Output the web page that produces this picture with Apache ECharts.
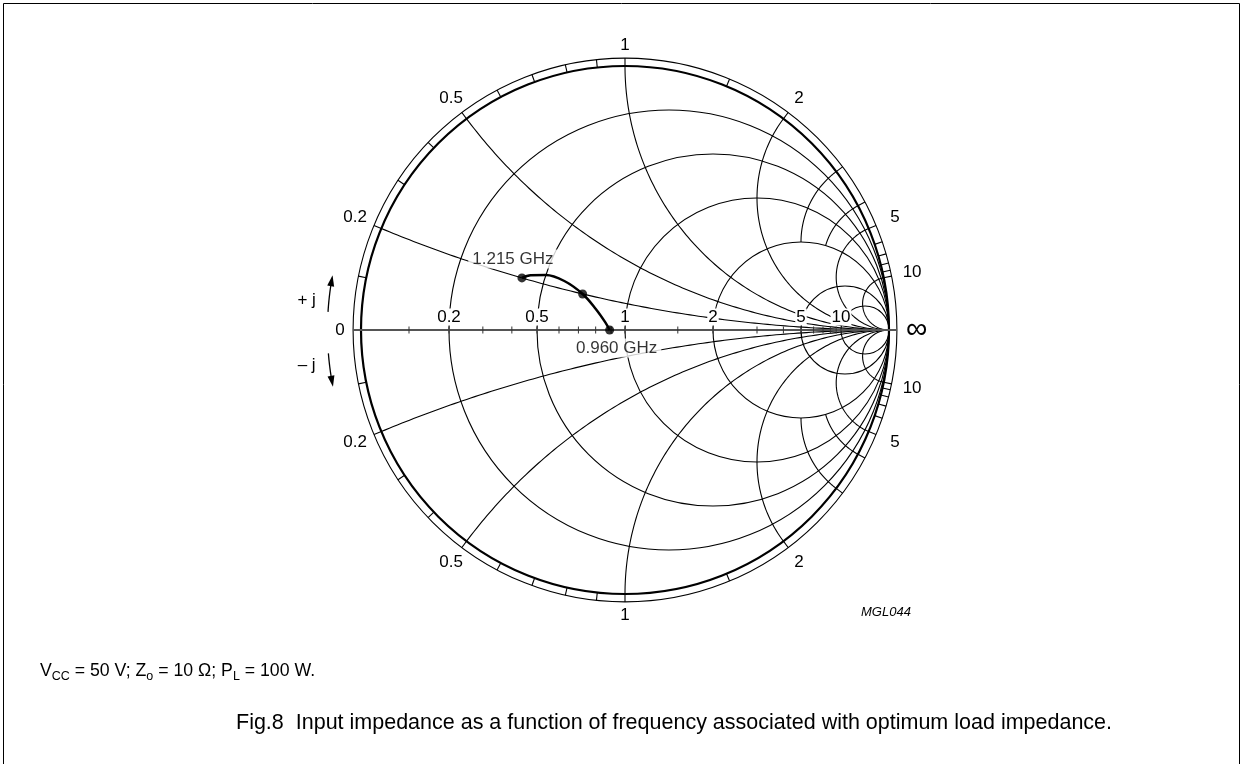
<!DOCTYPE html>
<html>
<head>
<meta charset="utf-8">
<script src="https://cdn.jsdelivr.net/npm/echarts@6/dist/echarts.min.js"></script>
<style>
html, body { margin: 0; padding: 0; background: #fff; }
#chart { width: 1247px; height: 764px; }
</style>
</head>
<body>
<div id="chart"></div>
<script>
// Smith chart grid (normalised impedance)
const resistanceCircles = [0.2, 0.5, 1, 2, 5, 10]
const reactanceArcs = [0.2, 0.5, 1, 2, 5, 10]
const shortArcs = [3, 4]          // drawn from the rim in to the r = 2 circle
const shortArcStop = 2
const scaleTicks = [0.1, 0.2, 0.3, 0.4, 0.5, 0.6, 0.7, 0.8, 0.9, 1, 1.5, 2, 3, 4, 5, 6, 7, 8, 9, 10]
const axisLabels = ['0.2', '0.5', '1', '2', '5', '10']
const rimLabels = ['0.2', '0.5', '1', '2', '5', '10']

const traceR = [0.89, 0.86, 0.79, 0.70, 0.59, 0.50, 0.44, 0.41]
const traceX = [0, 0.05, 0.13, 0.20, 0.24, 0.24, 0.22, 0.20]
const markedPoints = [0, 3, 7]
const freqLabels = ['0.960 GHz', '', '1.215 GHz']

const FONT = '"Liberation Sans", Arial, Helvetica, sans-serif'

function gamma(r, x) {
  const d = (r + 1) * (r + 1) + x * x
  return [(r * r - 1 + x * x) / d, (2 * x) / d]
}

function rimPoint(x, rad) {
  const t = Math.PI - 2 * Math.atan(x)
  return [rad * Math.cos(t), rad * Math.sin(t)]
}

// constant reactance arc, from the rim to resistance rStop (null = all the way to infinity)
function arcPoints(x, rStop) {
  const s = x < 0 ? -1 : 1
  const ax = Math.abs(x)
  const R = 1 / ax
  const t = Math.PI - 2 * Math.atan(ax)
  let a0 = Math.atan2(Math.sin(t) - R, Math.cos(t) - 1)
  if (a0 < Math.PI / 2) a0 += 2 * Math.PI
  let a1 = 1.5 * Math.PI
  if (rStop != null) {
    const e = gamma(rStop, ax)
    a1 = Math.atan2(e[1] - R, e[0] - 1)
    if (a1 < Math.PI / 2) a1 += 2 * Math.PI
  }
  const pts = []
  for (let i = 0; i <= 120; i++) {
    const a = a0 + (a1 - a0) * i / 120
    pts.push([1 + R * Math.cos(a), s * (R + R * Math.sin(a))])
  }
  return pts
}

const line = { stroke: '#000', lineWidth: 1.1, fill: 'none' }
const traceData = traceR.map((r, i) => gamma(r, traceX[i]))
const signed = (arr) => arr.concat(arr.map(v => -v))

const chart = echarts.init(document.getElementById('chart'))

chart.setOption({
  animation: false,
  backgroundColor: '#fff',
  grid: { left: 361, top: 66, width: 528, height: 528 },
  xAxis: { type: 'value', min: -1, max: 1, show: false },
  yAxis: { type: 'value', min: -1, max: 1, show: false },
  graphic: [
    { type: 'rect', shape: { x: 3.5, y: 3.5, width: 1236, height: 800 }, style: { fill: 'none', stroke: '#000', lineWidth: 1 } },
    {
      type: 'text', x: 861, y: 612,
      style: { text: 'MGL044', font: 'italic 13px ' + FONT, fill: '#000', verticalAlign: 'middle' }
    },
    {
      type: 'text', x: 40, y: 671,
      style: {
        text: '{n|V}{s|CC}{n| = 50 V; Z}{s|o}{n| = 10 Ω; P}{s|L}{n| = 100 W.}',
        verticalAlign: 'middle',
        rich: {
          n: { font: '17.7px ' + FONT, fill: '#000' },
          s: { font: '12.5px ' + FONT, fill: '#000', padding: [12, 0, 0, 0] }
        }
      }
    },
    {
      type: 'text', x: 236, y: 723,
      style: {
        text: 'Fig.8  Input impedance as a function of frequency associated with optimum load impedance.',
        font: '21.5px ' + FONT, fill: '#000', verticalAlign: 'middle'
      }
    }
  ],
  series: [
    {
      // constant resistance circles
      type: 'custom',
      data: resistanceCircles.map(r => [r, 0]),
      z: 2,
      renderItem: (params, api) => {
        const r = api.value(0)
        const c = api.coord([r / (1 + r), 0])
        const rad = api.size([1 / (1 + r), 0])[0]
        return { type: 'circle', shape: { cx: c[0], cy: c[1], r: rad }, style: line }
      }
    },
    {
      // constant reactance arcs
      type: 'custom',
      data: signed(reactanceArcs).map(x => [x, 0]),
      z: 2,
      renderItem: (params, api) => ({
        type: 'polyline',
        shape: { points: arcPoints(api.value(0), null).map(p => api.coord(p)) },
        style: line
      })
    },
    {
      // short reactance arcs near the rim
      type: 'custom',
      data: signed(shortArcs).map(x => [x, 0]),
      z: 2,
      renderItem: (params, api) => ({
        type: 'polyline',
        shape: { points: arcPoints(api.value(0), shortArcStop).map(p => api.coord(p)) },
        style: line
      })
    },
    {
      // chart rim and scale ring
      type: 'custom',
      data: [[0, 0]],
      z: 3,
      renderItem: (params, api) => {
        const c = api.coord([0, 0])
        const unit = api.size([1, 0])[0]
        return {
          type: 'group',
          children: [
            { type: 'circle', shape: { cx: c[0], cy: c[1], r: unit }, style: { stroke: '#000', lineWidth: 2.2, fill: 'none' } },
            { type: 'circle', shape: { cx: c[0], cy: c[1], r: unit * 1.03 }, style: line }
          ]
        }
      }
    },
    {
      // ticks on the rim ring
      type: 'custom',
      data: [0].concat(signed(scaleTicks)).map(x => [x, 0]),
      z: 3,
      renderItem: (params, api) => {
        const x = api.value(0)
        const a = api.coord(rimPoint(x, 1))
        const b = api.coord(rimPoint(x, 1.03))
        return { type: 'line', shape: { x1: a[0], y1: a[1], x2: b[0], y2: b[1] }, style: line }
      }
    },
    {
      // real axis
      type: 'custom',
      data: [[0, 0]],
      z: 4,
      renderItem: (params, api) => {
        const a = api.coord([-1.03, 0])
        const b = api.coord([1.03, 0])
        return { type: 'line', shape: { x1: a[0], y1: a[1], x2: b[0], y2: b[1] }, style: { stroke: '#555', lineWidth: 2 } }
      }
    },
    {
      // ticks on the real axis
      type: 'custom',
      data: scaleTicks.map(r => [r, 0]),
      z: 4,
      renderItem: (params, api) => {
        const r = api.value(0)
        const p = api.coord(gamma(r, 0))
        return { type: 'line', shape: { x1: p[0], y1: p[1] - 3.5, x2: p[0], y2: p[1] + 3.5 }, style: { stroke: '#333', lineWidth: 1 } }
      }
    },
    {
      // real axis labels
      type: 'custom',
      data: axisLabels.map(s => [parseFloat(s), 0]),
      z: 5,
      renderItem: (params, api) => {
        const p = api.coord(gamma(api.value(0), 0))
        return {
          type: 'text', x: p[0], y: p[1] - 13,
          style: {
            text: axisLabels[params.dataIndex], font: '17px ' + FONT, fill: '#000',
            align: 'center', verticalAlign: 'middle', backgroundColor: '#fff', padding: [0, 1]
          }
        }
      }
    },
    {
      // rim labels
      type: 'custom',
      data: signed(rimLabels.map(parseFloat)).map(x => [x, 0]),
      z: 5,
      renderItem: (params, api) => {
        const x = api.value(0)
        const t = Math.PI - 2 * Math.atan(x)
        const p = api.coord(rimPoint(x, 1.08 + 0.03 * Math.abs(Math.cos(t))))
        return {
          type: 'text', x: p[0], y: p[1],
          style: { text: rimLabels[params.dataIndex % rimLabels.length], font: '17px ' + FONT, fill: '#000', align: 'center', verticalAlign: 'middle' }
        }
      }
    },
    {
      // 0, infinity and the +j / -j direction arrows
      type: 'custom',
      data: [[0, 0]],
      z: 5,
      renderItem: (params, api) => {
        const txt = (pt, s, size) => {
          const p = api.coord(pt)
          return { type: 'text', x: p[0], y: p[1], style: { text: s, font: size + 'px ' + FONT, fill: '#000', align: 'center', verticalAlign: 'middle' } }
        }
        const arrow = (from, to) => {
          const rad = 1.127
          const pts = []
          for (let i = 0; i <= 20; i++) {
            const a = (from + (to - from) * i / 20) * Math.PI / 180
            pts.push(api.coord([rad * Math.cos(a), rad * Math.sin(a)]))
          }
          const tip = pts[pts.length - 1]
          const prev = pts[pts.length - 6]
          const dx = tip[0] - prev[0], dy = tip[1] - prev[1]
          const len = Math.hypot(dx, dy)
          const ux = dx / len, uy = dy / len
          const hl = 11, hw = 3.5
          const base = [tip[0] - ux * hl, tip[1] - uy * hl]
          return [
            { type: 'polyline', shape: { points: pts.slice(0, -5) }, style: { stroke: '#000', lineWidth: 1.3, fill: 'none' } },
            { type: 'polygon', shape: { points: [tip, [base[0] - uy * hw, base[1] + ux * hw], [base[0] + uy * hw, base[1] - ux * hw]] }, style: { fill: '#000' } }
          ]
        }
        return {
          type: 'group',
          children: [
            txt([-1.08, 0], '0', 17),
            txt([1.105, 0], '\u221e', 30),
            txt([-1.206, 0.114], '+ j', 17),
            txt([-1.206, -0.133], '\u2013 j', 17)
          ].concat(arrow(176.5, 169.4), arrow(184.5, 191))
        }
      }
    },
    {
      type: 'line',
      data: traceData,
      smooth: 0.35,
      symbol: 'none',
      clip: false,
      z: 8,
      lineStyle: { color: '#000', width: 2.5 }
    },
    {
      type: 'scatter',
      data: markedPoints.map(i => traceData[i]),
      symbolSize: 9,
      z: 9,
      clip: false,
      itemStyle: { color: '#000' },
      label: {
        show: true,
        position: 'inside',
        formatter: (p) => freqLabels[p.dataIndex],
        fontSize: 17,
        fontFamily: FONT,
        color: '#000',
        backgroundColor: '#fff',
        padding: [1, 4]
      },
      labelLayout: (p) => p.dataIndex === 0 ? { dx: 7, dy: 18 } : { dx: -9, dy: -19 }
    }
  ]
})
</script>
</body>
</html>
